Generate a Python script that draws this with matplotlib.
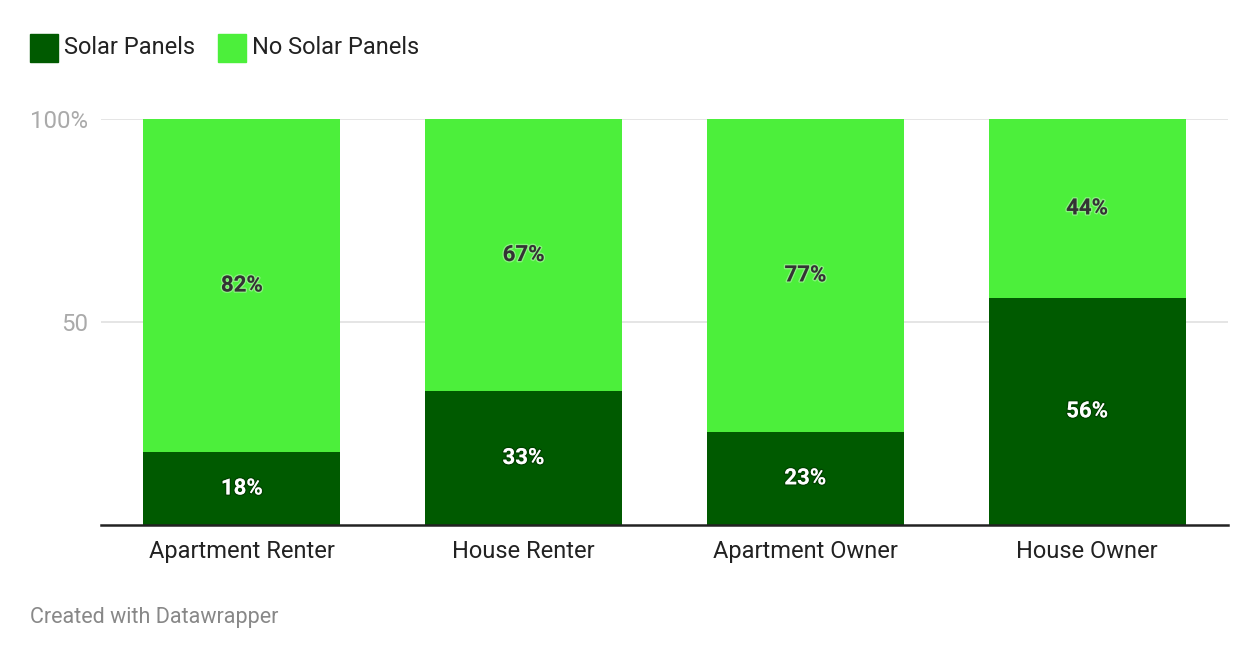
import matplotlib
matplotlib.use("Agg")
import matplotlib.pyplot as plt
import matplotlib.patheffects as pe
from matplotlib.patches import Rectangle

categories = ["Apartment Renter", "House Renter", "Apartment Owner", "House Owner"]
solar = [18, 33, 23, 56]
no_solar = [82, 67, 77, 44]
series_names = ["Solar Panels", "No Solar Panels"]
colors = ["#005a00", "#4cef3b"]

plt.rcParams['font.family'] = ['Roboto', 'DejaVu Sans']

fig = plt.figure(figsize=(12.6, 6.6), dpi=100)
ax = fig.add_axes([101/1260, 1-525/660, 1127/1260, 406/660])

x = list(range(len(categories)))
w = 0.70
ax.bar(x, solar, width=w, color=colors[0], zorder=3)
ax.bar(x, no_solar, width=w, bottom=solar, color=colors[1], zorder=3)

for i in x:
    ax.text(i, solar[i]/2, f"{solar[i]}%", ha="center", va="center", color="white",
            fontsize=16, fontweight="bold", zorder=5,
            path_effects=[pe.withStroke(linewidth=2, foreground="#00000040")])
    ax.text(i, solar[i] + no_solar[i]/2, f"{no_solar[i]}%", ha="center", va="center",
            color="#333333", fontsize=16, fontweight="bold", zorder=5,
            path_effects=[pe.withStroke(linewidth=2, foreground="#ffffff55")])

ax.set_xlim(-0.5, 3.5)
ax.set_ylim(0, 100)
ax.set_yticks([50, 100])
ax.set_yticklabels(["50", "100%"])
ax.yaxis.grid(True, color="#e0e0e0", linewidth=1.2, zorder=0)
ax.tick_params(axis="y", length=0, pad=9.4, labelsize=17.3, labelcolor="#aaaaaa")
ax.set_xticks(x)
ax.set_xticklabels(categories)
ax.tick_params(axis="x", length=0, pad=10.5, labelsize=17, labelcolor="#222222")
for s in ["top", "right", "left"]:
    ax.spines[s].set_visible(False)
ax.spines["bottom"].set_color("#222222")
ax.spines["bottom"].set_linewidth(1.8)
ax.spines["bottom"].set_zorder(4)

# legend
fig.patches.append(Rectangle((30/1260, 1-62/660), 28/1260, 28/660, transform=fig.transFigure,
                             color=colors[0], figure=fig))
fig.text(64/1260, 1-48/660, series_names[0], fontsize=17, color="#222222", va="center")
fig.patches.append(Rectangle((218/1260, 1-62/660), 28/1260, 28/660, transform=fig.transFigure,
                             color=colors[1], figure=fig))
fig.text(252/1260, 1-48/660, series_names[1], fontsize=17, color="#222222", va="center")

fig.text(30/1260, 1-617/660, "Created with Datawrapper", fontsize=15.5, color="#888888", va="center")

fig.savefig("out.png", dpi=100, facecolor="white")
